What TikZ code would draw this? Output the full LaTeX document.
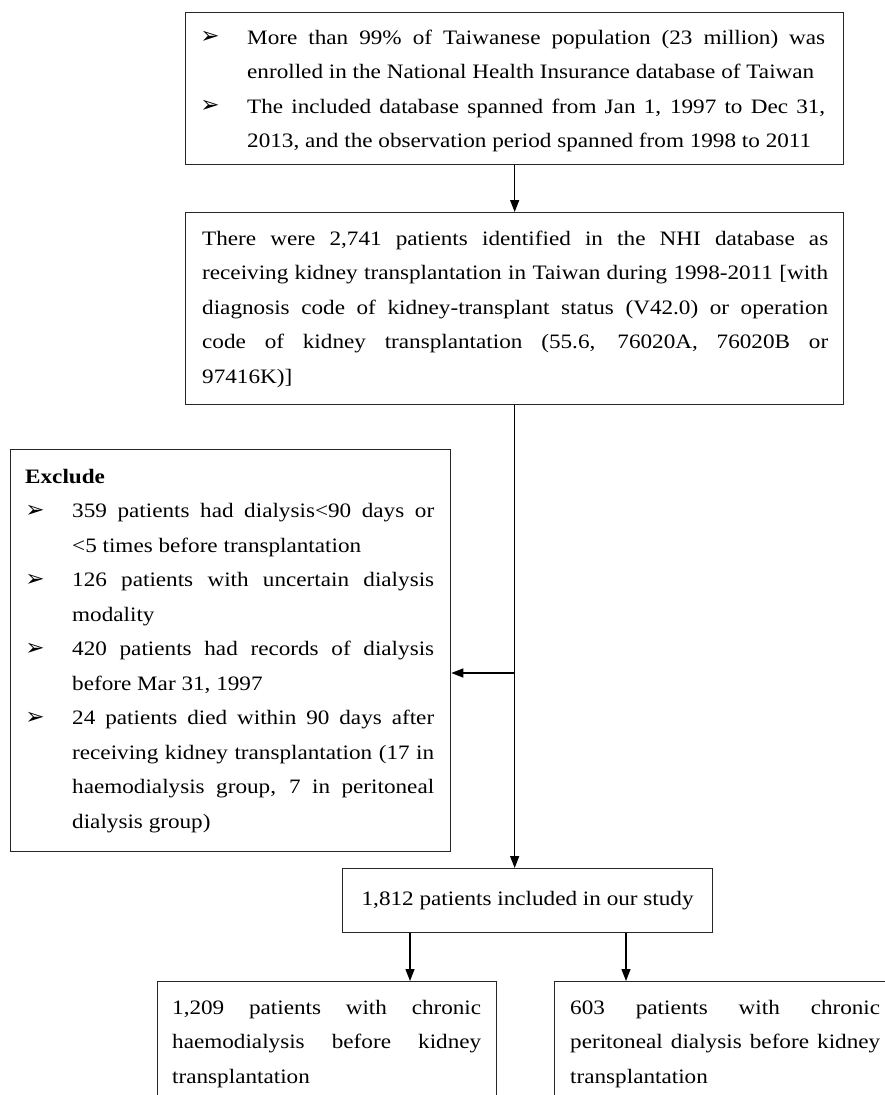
\documentclass[tikz,border=0pt]{standalone}
\usepackage{fontspec}
\setmainfont{Liberation Serif}[FakeStretch=1.13]
\newfontfamily\dvfont{DejaVu Sans}
\usetikzlibrary{arrows.meta}
\begin{document}
\begin{tikzpicture}[x=1bp,y=-1bp,
  box/.style={draw=black!85, line width=1.3bp, rectangle, inner sep=0pt, anchor=north west},
  txt/.style={anchor=base west, inner sep=0pt, font=\fontsize{20.5bp}{34.5bp}\selectfont},
  bul/.style={anchor=center, inner sep=0pt, font=\dvfont\fontsize{23bp}{24bp}\selectfont},
  arr/.style={draw=black, line width=1.3bp, -{Triangle[width=9bp,length=12bp]}}]
\useasboundingbox (0,0) rectangle (885,1095);
\fill[white] (0,0) rectangle (885,1095);
\clip (0,0) rectangle (885,1095);

% boxes
\node[box, minimum width=658bp, minimum height=152bp] (b1) at (185,12) {};
\node[box, minimum width=658bp, minimum height=192bp] (b2) at (185,212) {};
\node[box, minimum width=440bp, minimum height=402bp] (b3) at (10,449) {};
\node[box, minimum width=370bp, minimum height=64bp, font=\fontsize{20.5bp}{24bp}\selectfont] (b4) at (342,868) {1,812 patients included in our study};
\node[box, minimum width=339bp, minimum height=130bp] (b5) at (157,981) {};
\node[box, minimum width=346bp, minimum height=130bp] (b6) at (554,981) {};

% box 1 text
\node[bul] (u11) at (210,37) {➢};
\node[txt] (t11) at (247,44) {\makebox[578bp][s]{More than 99\% of Taiwanese population (23 million) was}};
\node[txt] (t12) at (247,78.5) {enrolled in the National Health Insurance database of Taiwan};
\node[bul] (u12) at (210,106) {➢};
\node[txt] (t13) at (247,113) {\makebox[578bp][s]{The included database spanned from Jan 1, 1997 to Dec 31,}};
\node[txt] (t14) at (247,147.5) {2013, and the observation period spanned from 1998 to 2011};

% box 2 text
\node[txt] (t21) at (202,245) {\makebox[626bp][s]{There were 2,741 patients identified in the NHI database as}};
\node[txt] (t22) at (202,279.5) {\makebox[626bp][s]{receiving kidney transplantation in Taiwan during 1998-2011 [with}};
\node[txt] (t23) at (202,314) {\makebox[626bp][s]{diagnosis code of kidney-transplant status (V42.0) or operation}};
\node[txt] (t24) at (202,348.5) {\makebox[626bp][s]{code of kidney transplantation (55.6, 76020A, 76020B or}};
\node[txt] (t25) at (202,383) {97416K)]};

% box 3 text
\node[txt] (t30) at (25,483) {\bfseries Exclude};
\node[bul] (u31) at (35,511) {➢};
\node[txt] (t31) at (72,517.5) {\makebox[362bp][s]{359 patients had dialysis<90 days or}};
\node[txt] (t32) at (72,552) {<5 times before transplantation};
\node[bul] (u32) at (35,580) {➢};
\node[txt] (t33) at (72,586.5) {\makebox[362bp][s]{126 patients with uncertain dialysis}};
\node[txt] (t34) at (72,621) {modality};
\node[bul] (u33) at (35,649) {➢};
\node[txt] (t35) at (72,655.5) {\makebox[362bp][s]{420 patients had records of dialysis}};
\node[txt] (t36) at (72,690) {before Mar 31, 1997};
\node[bul] (u34) at (35,718) {➢};
\node[txt] (t37) at (72,724.5) {\makebox[362bp][s]{24 patients died within 90 days after}};
\node[txt] (t38) at (72,759) {\makebox[362bp][s]{receiving kidney transplantation (17 in}};
\node[txt] (t39) at (72,793.5) {\makebox[362bp][s]{haemodialysis group, 7 in peritoneal}};
\node[txt] (t310) at (72,828) {dialysis group)};

% box 5 text
\node[txt] (t51) at (172,1014) {\makebox[309bp][s]{1,209 patients with chronic}};
\node[txt] (t52) at (172,1048.5) {\makebox[309bp][s]{haemodialysis before kidney}};
\node[txt] (t53) at (172,1083) {transplantation};

% box 6 text
\node[txt] (t61) at (570,1014) {\makebox[310bp][s]{603 patients with chronic}};
\node[txt] (t62) at (570,1048.5) {\makebox[310bp][s]{peritoneal dialysis before kidney}};
\node[txt] (t63) at (570,1083) {transplantation};

% connectors
\coordinate (yb) at (0,673);
\coordinate (br) at (b2.south |- yb);
\coordinate (x5) at (410,0);
\coordinate (x6) at (626,0);
\draw[arr] (b1.south) -- (b2.north);
\draw[arr] (b2.south) -- (b2.south |- b4.north);
\draw[arr] (br) -- (br -| b3.east);
\draw[arr] (x5 |- b4.south) -- (x5 |- b5.north);
\draw[arr] (x6 |- b4.south) -- (x6 |- b5.north);
\end{tikzpicture}
\end{document}
